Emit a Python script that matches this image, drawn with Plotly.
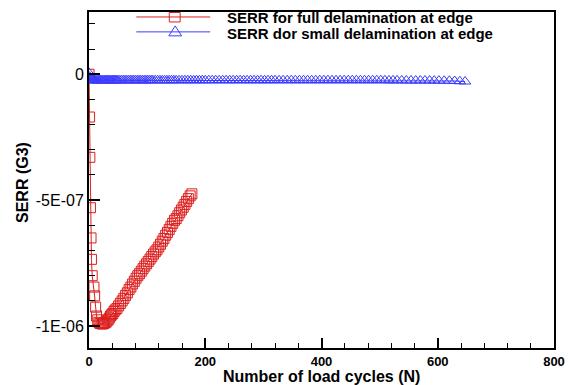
import plotly.graph_objects as go

# ---- data ----
red_N = [0, 1, 1.5, 2.5, 3.5, 4.2, 5.5, 8.5, 9.7, 11.4, 13, 15, 17, 19, 21, 23, 25, 27, 29, 31,
         33, 35, 37, 39, 41, 43, 45, 48, 51, 54, 57, 60, 63, 66, 69, 72, 75, 78, 81, 84,
         87, 90, 93, 96, 99, 102, 105, 108, 111, 114, 117, 120, 123, 126, 129, 132, 135, 138, 141, 144,
         147, 150, 153, 156, 159, 162, 165, 168, 171, 174, 177]
red_G3_e7 = [0, -1.7, -3.3, -5.3, -6.5, -7.35, -8.0, -8.45, -8.8, -9.25, -9.6, -9.75, -9.85, -9.9, -9.9, -9.92, -9.9, -9.88, -9.85, -9.8,
             -9.75, -9.68, -9.6, -9.55, -9.5, -9.42, -9.36, -9.3, -9.2, -9.1, -9.0, -8.9, -8.78, -8.68, -8.55, -8.45, -8.33, -8.22, -8.1, -8.0,
             -7.92, -7.82, -7.72, -7.62, -7.53, -7.43, -7.34, -7.24, -7.14, -7.05, -6.97, -6.86, -6.75, -6.63, -6.52, -6.39, -6.28, -6.16, -6.04, -5.92,
             -5.8, -5.73, -5.62, -5.5, -5.39, -5.28, -5.17, -5.05, -4.94, -4.83, -4.75]

blue_N = [0, 1, 2, 3, 4, 5, 6, 7, 8, 9, 10, 12, 14, 16, 18, 20, 22, 24, 26, 28,
          30, 32, 34, 36, 38, 40, 42, 44, 46, 48, 50, 53, 56, 59, 62, 65, 68, 71, 74, 77,
          80, 83, 86, 89, 92, 95, 98, 101, 104, 107, 110, 114, 118, 122, 126, 130, 134, 138, 142, 146,
          150, 155, 160, 165, 170, 175, 180, 185, 190, 195, 200, 206, 212, 218, 224, 230, 236, 242, 248, 254,
          260, 266, 272, 278, 284, 290, 296, 302, 308, 314, 320, 327, 334, 341, 348, 355, 362, 369, 376, 383,
          390, 397, 404, 411, 418, 425, 432, 439, 446, 453, 460, 467, 474, 481, 488, 495, 502, 509, 516, 523,
          530, 538, 546, 554, 562, 570, 578, 586, 594, 602, 611, 620, 629, 638, 647]
blue_G3_e8 = [0.5, -1.0, -1.6, -2.0, -2.2, -2.3, -2.3, -2.4, -2.4, -2.4, -2.4, -2.4, -2.4, -2.4, -2.4, -2.4, -2.4, -2.4, -2.4, -2.4,
              -2.4, -2.4, -2.4, -2.4, -2.4, -2.4, -2.4, -2.4, -2.4, -2.4, -2.4, -2.4, -2.4, -2.4, -2.4, -2.4, -2.4, -2.4, -2.4, -2.4,
              -2.4, -2.4, -2.4, -2.4, -2.4, -2.4, -2.4, -2.4, -2.4, -2.4, -2.4, -2.4, -2.4, -2.4, -2.4, -2.4, -2.4, -2.4, -2.4, -2.4,
              -2.4, -2.4, -2.4, -2.4, -2.4, -2.4, -2.4, -2.4, -2.4, -2.4, -2.4, -2.4, -2.4, -2.4, -2.4, -2.4, -2.4, -2.4, -2.4, -2.4,
              -2.4, -2.4, -2.4, -2.4, -2.4, -2.4, -2.4, -2.4, -2.4, -2.4, -2.4, -2.4, -2.4, -2.4, -2.4, -2.4, -2.4, -2.4, -2.4, -2.4,
              -2.4, -2.4, -2.4, -2.4, -2.4, -2.4, -2.4, -2.4, -2.4, -2.4, -2.4, -2.4, -2.4, -2.4, -2.4, -2.4, -2.4, -2.4, -2.45, -2.45,
              -2.45, -2.45, -2.5, -2.5, -2.5, -2.5, -2.5, -2.5, -2.55, -2.55, -2.6, -2.6, -2.7, -2.8, -2.9]

red_G3 = [v * 1e-7 for v in red_G3_e7]
blue_G3 = [v * 1e-8 for v in blue_G3_e8]

x_ticks = [0, 200, 400, 600, 800]
y_tick_vals = [0, -5e-7, -1e-6]
y_tick_text = ["0", "-5E-07", "-1E-06"]
y_minor_vals = [2e-7, 1e-7, -1e-7, -2e-7, -3e-7, -4e-7, -6e-7, -7e-7, -8e-7, -9e-7]

red_name = "SERR for full delamination at edge"
blue_name = "SERR dor small delamination at edge"
x_title = "Number of load cycles (N)"
y_title = "SERR (G3)"

FONT = "Liberation Sans, Arial, sans-serif"
RED = "#dc1e1e"
BLUE = "#3a3aff"

W, H = 575, 385
ML, MR, MT, MB = 89, 14, 10, 37
PW, PH = W - ML - MR, H - MT - MB


def px(xp):
    return (xp - ML) / PW


def py(yp):
    return (H - MB - yp) / PH


fig = go.Figure()
fig.add_trace(go.Scatter(
    x=red_N, y=red_G3, mode="lines+markers", name=red_name, showlegend=False,
    line=dict(color=RED, width=1),
    marker=dict(symbol="square-open", size=10, color=RED, line=dict(width=1)),
))
fig.add_trace(go.Scatter(
    x=blue_N, y=blue_G3, mode="lines+markers", name=blue_name, showlegend=False,
    line=dict(color=BLUE, width=1),
    marker=dict(symbol="triangle-up-open", size=10, color=BLUE, line=dict(width=1)),
))

# manual legend (compact spacing as in the reference)
shapes = [
    dict(type="line", xref="paper", yref="paper", x0=px(137), x1=px(212), y0=py(15), y1=py(15),
         line=dict(color=RED, width=1)),
    dict(type="rect", xref="paper", yref="paper", x0=px(170.5), x1=px(181.5), y0=py(10.5), y1=py(20),
         line=dict(color=RED, width=1), fillcolor="rgba(0,0,0,0)"),
    dict(type="line", xref="paper", yref="paper", x0=px(137), x1=px(212), y0=py(30), y1=py(30),
         line=dict(color=BLUE, width=1)),
    dict(type="path", xref="paper", yref="paper",
         path=f"M {px(170)},{py(34)} L {px(176.5)},{py(24)} L {px(183)},{py(34)} Z",
         line=dict(color=BLUE, width=1), fillcolor="rgba(0,0,0,0)"),
]

legend_font = dict(family=FONT, size=15, color="black", weight="bold")
annotations = [
    dict(text=red_name, xref="paper", yref="paper", x=px(227), y=py(15.8), xanchor="left", yanchor="middle",
         showarrow=False, font=legend_font),
    dict(text=blue_name, xref="paper", yref="paper", x=px(227), y=py(31.2), xanchor="left", yanchor="middle",
         showarrow=False, font=legend_font),
    dict(text=x_title, xref="paper", yref="paper", x=0.5, y=py(377), xanchor="center", yanchor="middle",
         showarrow=False, font=dict(family=FONT, size=16, color="black", weight="bold")),
    dict(text=y_title, xref="paper", yref="paper", x=px(22), y=py(181), xanchor="center", yanchor="middle",
         showarrow=False, textangle=-90, font=dict(family=FONT, size=16, color="black", weight="bold")),
]

fig.update_layout(
    width=W, height=H,
    margin=dict(l=ML, r=MR, t=MT, b=MB),
    paper_bgcolor="white", plot_bgcolor="white",
    font=dict(family=FONT, color="black"),
    showlegend=False,
    shapes=shapes,
    annotations=annotations,
    xaxis=dict(
        range=[0, 800], tickmode="array", tickvals=x_ticks,
        ticks="inside", ticklen=10, tickwidth=2, tickcolor="black",
        showline=True, linewidth=2, linecolor="black", mirror=True,
        showgrid=False, zeroline=False,
        tickfont=dict(family=FONT, size=13, color="black", weight="bold"),
        minor=dict(dtick=40, tick0=0, ticks="inside", ticklen=5, tickwidth=1, tickcolor="black", showgrid=False),
    ),
    yaxis=dict(
        range=[-1.087e-6, 2.47e-7], tickmode="array", tickvals=y_tick_vals, ticktext=y_tick_text,
        ticks="inside", ticklen=11, tickwidth=2, tickcolor="black",
        showline=True, linewidth=2, linecolor="black", mirror=True,
        showgrid=False, zeroline=False,
        tickfont=dict(family=FONT, size=16, color="black"),
        minor=dict(tickmode="array", tickvals=y_minor_vals, ticks="inside", ticklen=6, tickwidth=1,
                   tickcolor="black", showgrid=False),
    ),
)

fig.write_html("out.html")
